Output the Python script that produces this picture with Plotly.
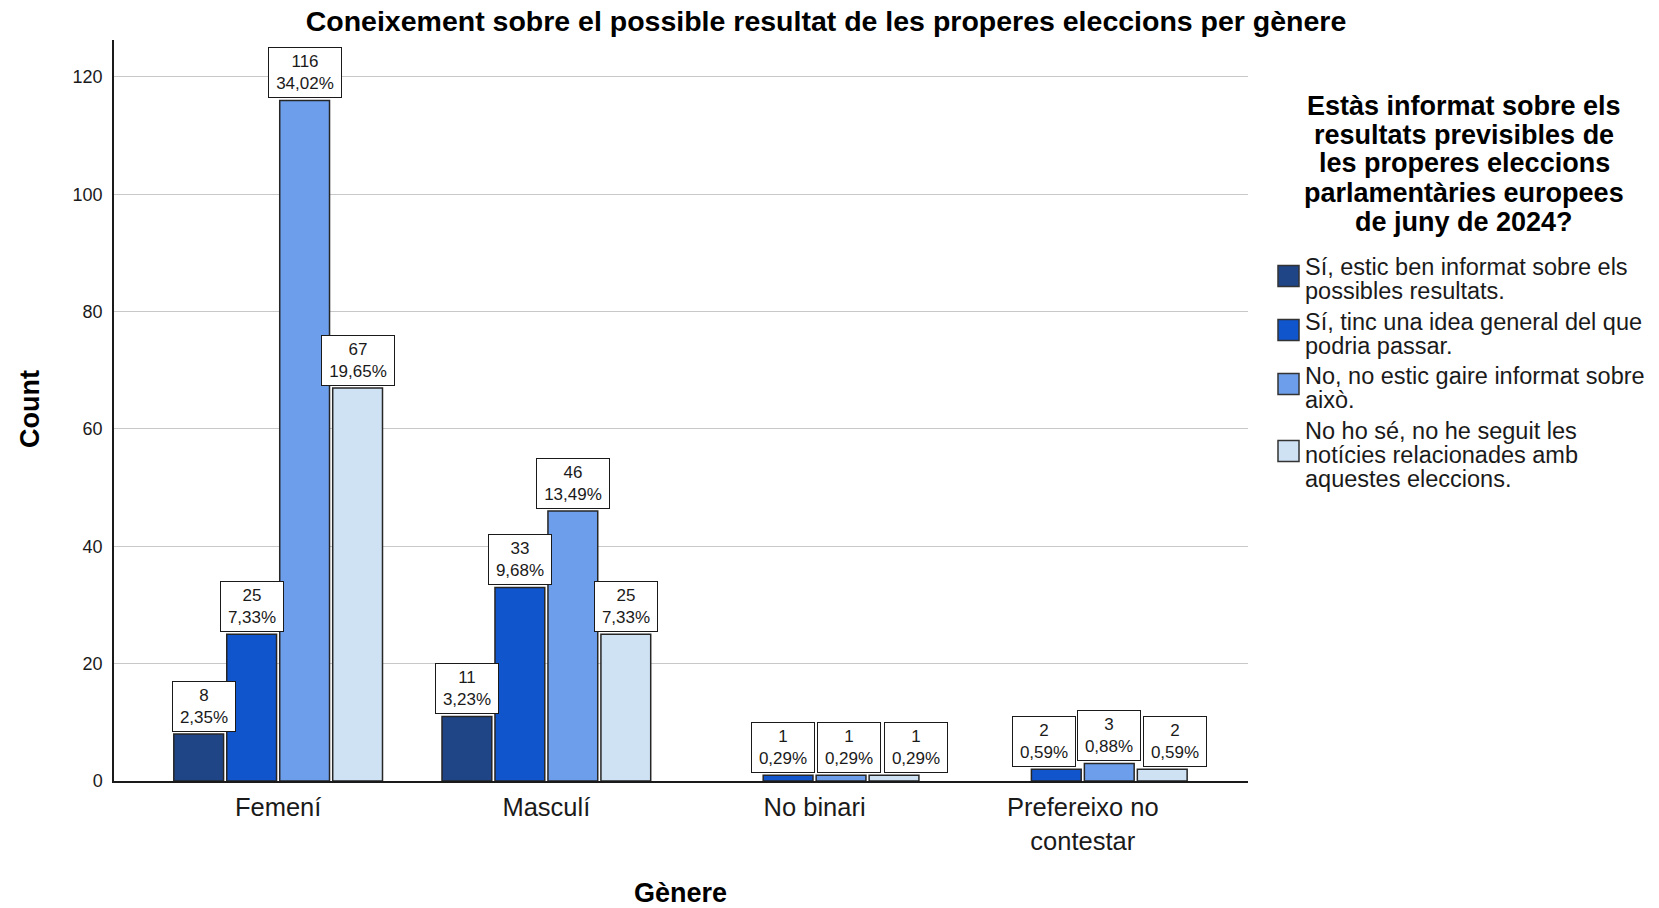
import plotly.graph_objects as go

# ---------------- data ----------------
categories = ["Femení", "Masculí", "No binari", "Prefereixo no<br>contestar"]

series_names = [
    "Sí, estic ben informat sobre els possibles resultats.",
    "Sí, tinc una idea general del que podria passar.",
    "No, no estic gaire informat sobre això.",
    "No ho sé, no he seguit les notícies relacionades amb aquestes eleccions.",
]
legend_lines = [
    ["Sí, estic ben informat sobre els", "possibles resultats."],
    ["Sí, tinc una idea general del que", "podria passar."],
    ["No, no estic gaire informat sobre", "això."],
    ["No ho sé, no he seguit les", "notícies relacionades amb", "aquestes eleccions."],
]
legend_title_lines = [
    "Estàs informat sobre els",
    "resultats previsibles de",
    "les properes eleccions",
    "parlamentàries europees",
    "de juny de 2024?",
]

counts_ben = [8, 11, None, None]
counts_idea = [25, 33, 1, 2]
counts_gaire = [116, 46, 1, 3]
counts_nose = [67, 25, 1, 2]

pct_ben = ["2,35%", "3,23%", None, None]
pct_idea = ["7,33%", "9,68%", "0,29%", "0,59%"]
pct_gaire = ["34,02%", "13,49%", "0,29%", "0,88%"]
pct_nose = ["19,65%", "7,33%", "0,29%", "0,59%"]

y_ticks = [0, 20, 40, 60, 80, 100, 120]

counts = [counts_ben, counts_idea, counts_gaire, counts_nose]
pcts = [pct_ben, pct_idea, pct_gaire, pct_nose]

# ---------------- style ----------------
colors = ["#1f4587", "#1155cc", "#6d9eeb", "#cfe2f3"]
FONT = "Liberation Sans, Arial, sans-serif"
W, H = 1659, 908
PLOT_LEFT, PLOT_TOP, PLOT_RIGHT, PLOT_BOTTOM = 114, 40, 1248, 781
L, T, R, B = PLOT_LEFT, PLOT_TOP, W - PLOT_RIGHT, H - PLOT_BOTTOM
PW, PH = W - L - R, H - T - B
BARGAP = 0.21
BARGROUPGAP = 0.06

# label collision nudges (px), keyed by (series, category)
label_nudge = {(0, 0): 5, (1, 2): -5, (2, 2): 8, (3, 2): 22,
               (1, 3): -12, (2, 3): 0, (3, 3): 13}


def px_x(px):  # page px -> paper
    return (px - PLOT_LEFT) / PW


def px_y(py):
    return (PLOT_BOTTOM - py) / PH


fig = go.Figure()
for j in range(4):
    fig.add_trace(go.Bar(
        x=categories,
        y=counts[j],
        name=series_names[j],
        marker=dict(color=colors[j], line=dict(color="#262626", width=1.5)),
        showlegend=False,
    ))

annotations = []
slot = (1 - BARGAP) / 4
for j in range(4):
    for i, v in enumerate(counts[j]):
        if v is None:
            continue
        p = pcts[j][i]
        annotations.append(dict(
            x=i + (j - 1.5) * slot, y=v, xref="x", yref="y",
            text=f"{v}<br>{p}", showarrow=False,
            xanchor="center", yanchor="bottom", yshift=2,
            xshift=label_nudge.get((j, i), 0),
            font=dict(family=FONT, size=17, color="#1a1a1a"),
            bgcolor="white", bordercolor="#1a1a1a", borderwidth=1, borderpad=2,
            width=10 * len(p) + 8, height=45,
        ))

# axis titles
annotations.append(dict(
    x=px_x(30), y=px_y(409), xref="paper", yref="paper", text="<b>Count</b>",
    textangle=-90, showarrow=False, xanchor="center", yanchor="middle",
    font=dict(family=FONT, size=27, color="black"),
))
annotations.append(dict(
    x=px_x(680), y=px_y(893), xref="paper", yref="paper", text="<b>Gènere</b>",
    showarrow=False, xanchor="center", yanchor="middle",
    font=dict(family=FONT, size=27, color="black"),
))

# legend (drawn manually)
title_y = [106, 134.5, 163.5, 193, 222]
for k, line in enumerate(legend_title_lines):
    annotations.append(dict(
        x=px_x(1464), y=px_y(title_y[k]), xref="paper", yref="paper",
        text=f"<b>{line}</b>", showarrow=False, xanchor="center", yanchor="middle",
        font=dict(family=FONT, size=27, color="black"), borderpad=0,
    ))

item_first_y = [267, 322, 376, 431]
swatch_y = [276, 330, 384, 451]
line_step = 24
shapes = []
for j in range(4):
    for k, line in enumerate(legend_lines[j]):
        annotations.append(dict(
            x=px_x(1304), y=px_y(item_first_y[j] + k * line_step),
            xref="paper", yref="paper", text=line, showarrow=False,
            xanchor="left", yanchor="middle", borderpad=0,
            font=dict(family=FONT, size=23.5, color="#1a1a1a"),
        ))
    shapes.append(dict(
        type="rect", xref="paper", yref="paper",
        x0=px_x(1278), x1=px_x(1299),
        y0=px_y(swatch_y[j] + 10.5), y1=px_y(swatch_y[j] - 10.5),
        fillcolor=colors[j], line=dict(color="#333333", width=1.5),
    ))

fig.update_layout(
    width=W, height=H,
    margin=dict(l=L, r=R, t=T, b=B, autoexpand=False),
    paper_bgcolor="white", plot_bgcolor="white",
    barmode="group", bargap=BARGAP, bargroupgap=BARGROUPGAP,
    title=dict(
        text="<b>Coneixement sobre el possible resultat de les properes eleccions per gènere</b>",
        x=826 / W, xref="container", xanchor="center",
        y=1 - 21 / H, yref="container", yanchor="middle",
        font=dict(family=FONT, size=28.5, color="black"),
    ),
    xaxis=dict(
        type="category", range=[-0.612, 3.616],
        showline=True, linecolor="#1a1a1a", linewidth=1.5,
        ticks="", showgrid=False,
        tickfont=dict(family=FONT, size=25.5, color="#1a1a1a"),
        ticklabelstandoff=3,
    ),
    yaxis=dict(
        range=[0, 126.3], tickvals=y_ticks,
        showline=True, linecolor="#1a1a1a", linewidth=1.5,
        ticks="", showgrid=True, gridcolor="#c8c8c8", gridwidth=1.2,
        zeroline=False,
        tickfont=dict(family=FONT, size=18, color="#1a1a1a"),
        ticklabelstandoff=6,
    ),
    annotations=annotations,
    shapes=shapes,
)

fig.write_html(
    "out.html",
    config={"displayModeBar": False},
    post_script="document.body.style.margin='0px';",
)
